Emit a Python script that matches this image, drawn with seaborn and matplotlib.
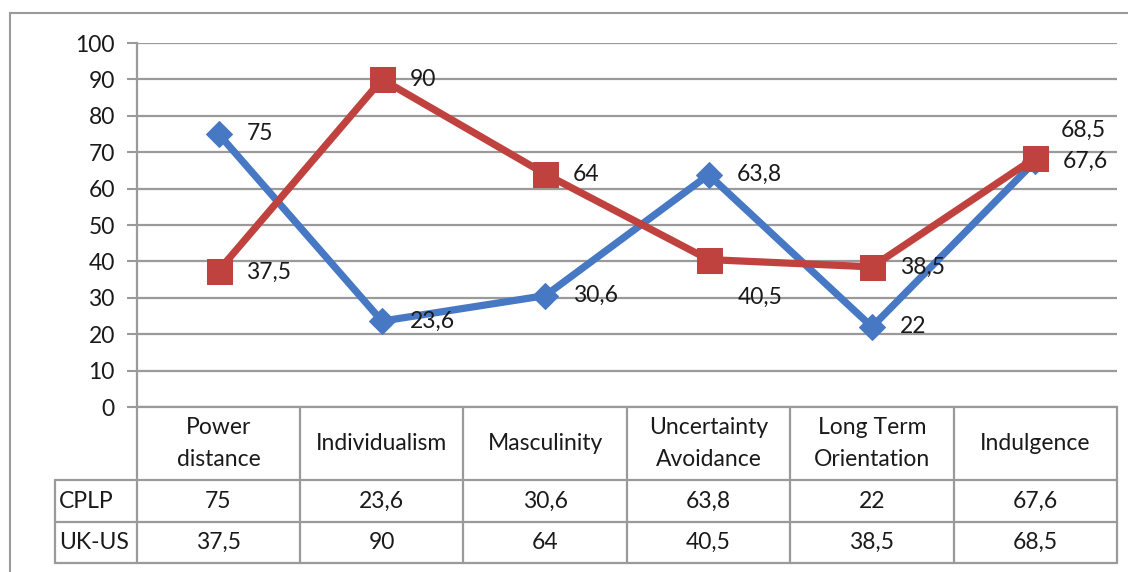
import numpy as np
import pandas as pd
import matplotlib.pyplot as plt
import seaborn as sns
from matplotlib.patches import Rectangle

# Data
categories = ['Power\ndistance', 'Individualism', 'Masculinity',
              'Uncertainty\nAvoidance', 'Long Term\nOrientation', 'Indulgence']
series_names = ['CPLP', 'UK-US']
cplp = [75, 23.6, 30.6, 63.8, 22, 67.6]
ukus = [37.5, 90, 64, 40.5, 38.5, 68.5]
y_ticks = list(range(0, 101, 10))

# Styling
BLUE = '#4678C4'
RED = '#C0423F'
GRID = '#9A9A9A'
TXT = '#1A1A1A'
FS = 16.5

# label offsets (points) per series/point, default is to the right
label_offsets = {
    'CPLP': [(20, 0)] * 6,
    'UK-US': [(20, -1), (20, 0), (20, 0), (21, -27), (20, 0), (18, 20)],
}


def fmt(v):
    return f'{v:g}'.replace('.', ',')


sns.set_style('white')
plt.rcParams['font.family'] = ['Lato', 'DejaVu Sans']

W, H = 1128, 572
fig = plt.figure(figsize=(W / 100, H / 100), dpi=100)


def box(x0, y0, x1, y1):
    """pixel box (y from top) -> figure fraction rect"""
    return [x0 / W, 1 - y1 / H, (x1 - x0) / W, (y1 - y0) / H]


ax = fig.add_axes(box(137, 43, 1117, 407))
tab = fig.add_axes(box(55, 407, 1117, 563))

df = pd.DataFrame({'pos': np.arange(len(categories)), 'CPLP': cplp, 'UK-US': ukus})

sns.lineplot(data=df, x='pos', y='CPLP', ax=ax, color=BLUE, lw=5.2,
             marker='D', ms=13, mec=BLUE, zorder=3, clip_on=False)
sns.lineplot(data=df, x='pos', y='UK-US', ax=ax, color=RED, lw=5.2,
             marker='s', ms=18, mec=RED, zorder=4, clip_on=False)

for name in series_names:
    for i, v in enumerate(df[name]):
        ax.annotate(fmt(v), (i, v), xytext=label_offsets[name][i],
                    textcoords='offset points', ha='left', va='center',
                    fontsize=FS, color=TXT, zorder=5)

ax.set_xlim(-0.5, len(categories) - 0.5)
ax.set_ylim(0, 100)
ax.set_yticks(y_ticks)
ax.set_xticks([])
ax.set_xlabel('')
ax.set_ylabel('')
ax.yaxis.grid(True, color=GRID, lw=1.6)
ax.set_axisbelow(True)
ax.tick_params(axis='y', left=True, length=7, width=1.5, color=GRID,
               pad=9, labelsize=FS, labelcolor=TXT)
for s in ['top', 'right']:
    ax.spines[s].set_visible(False)
for s in ['left', 'bottom']:
    ax.spines[s].set_color(GRID)
    ax.spines[s].set_linewidth(1.6)

# data table under the chart
n = len(categories)
tab.set_xlim(-1.0, n - 0.5)
tab.set_ylim(156, 0)
tab.axis('off')
row_edges = [0, 73, 115, 156]
lkw = dict(color=GRID, lw=1.6, clip_on=False)
for k in range(n + 1):
    tab.plot([k - 0.5, k - 0.5], [0, 156], **lkw)
tab.plot([-1.0, -1.0], [73, 156], **lkw)
for yy in row_edges[1:]:
    tab.plot([-1.0, n - 0.5], [yy, yy], **lkw)

for i, cat in enumerate(categories):
    tab.text(i, 36.5, cat, ha='center', va='center', fontsize=FS,
             color=TXT, linespacing=1.6)
for r, (name, vals) in enumerate(zip(series_names, [cplp, ukus])):
    yc = (row_edges[r + 1] + row_edges[r + 2]) / 2
    tab.annotate(name, (-1.0, yc), xytext=(3, 0), textcoords='offset points',
                 ha='left', va='center', fontsize=FS, color=TXT)
    for i, v in enumerate(vals):
        tab.text(i, yc, fmt(v), ha='center', va='center', fontsize=FS, color=TXT)

# outer chart frame
fig.add_artist(Rectangle((10 / W, -0.1), 1.2, 1 - 13 / H + 0.1, fill=False,
                         ec=GRID, lw=1.5, transform=fig.transFigure))

fig.savefig('out.png', dpi=100)
